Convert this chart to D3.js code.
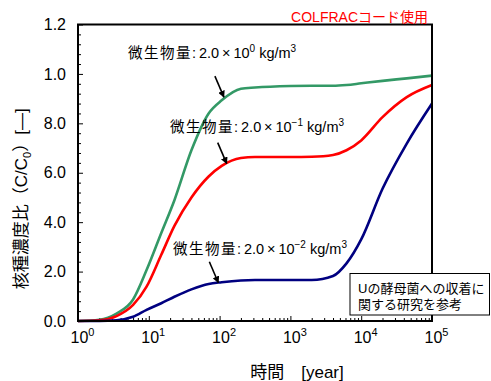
<!DOCTYPE html>
<html>
<head>
<meta charset="utf-8">
<script src="https://cdn.jsdelivr.net/npm/d3@7"></script>
<style>
  body { margin: 0; background: #fff; }
  svg { display: block; font-family: "Liberation Sans", "Noto Sans CJK JP", sans-serif; }
</style>
</head>
<body>
<div id="chart"></div>
<script>
// time [year]
const years = [1, 2, 3.5, 6, 9.3, 15, 23, 40, 70, 107, 200, 316, 1000, 2000, 4000, 6200, 10000, 20000, 44000, 100000];
// C/C0 for each biomass
const green = [0, 0.005, 0.03, 0.087, 0.206, 0.356, 0.489, 0.691, 0.84, 0.893, 0.94, 0.945, 0.951, 0.952, 0.952, 0.955, 0.962, 0.972, 0.982, 0.993];
const red   = [0, 0.003, 0.02, 0.065, 0.139, 0.268, 0.385, 0.5, 0.585, 0.628, 0.66, 0.664, 0.664, 0.665, 0.672, 0.691, 0.731, 0.825, 0.906, 0.955];
const blue  = [0, 0, 0.003, 0.017, 0.045, 0.072, 0.098, 0.128, 0.15, 0.157, 0.164, 0.166, 0.166, 0.166, 0.182, 0.233, 0.33, 0.535, 0.718, 0.88];

const yTickValues = [0, 0.2, 0.4, 0.6, 0.8, 1.0, 1.2];
const yTickLabels = ['0.0', '2.0', '4.0', '6.0', '8.0', '1.0', '1.2'];
const xExponents = [0, 1, 2, 3, 4, 5];

const seriesList = [
  { values: green, color: '#339966', exp: '0' },
  { values: red, color: '#ff0000', exp: '\u22121' },
  { values: blue, color: '#000080', exp: '\u22122' }
];

// label start (t, v) and arrow head (t, v) in data space
const annotations = [
  { label: [5.1, 1.084], head: [115, 0.906] },
  { label: [20, 0.785], head: [126, 0.637] },
  { label: [22, 0.29], head: [96, 0.155] }
];

const W = 491, H = 381;
const margin = { top: 24.5, right: 59, bottom: 60, left: 78 };

const svg = d3.select('#chart').append('svg')
  .attr('width', W)
  .attr('height', H);

const x = d3.scaleLog()
  .domain([1, 1e5])
  .range([margin.left, W - margin.right]);

const y = d3.scaleLinear()
  .domain([0, 1.2])
  .range([H - margin.bottom, margin.top]);

// minor ticks
const minorX = [];
for (let e = 0; e < 5; e++) {
  for (let k = 2; k <= 9; k++) minorX.push(k * Math.pow(10, e));
}
const minorY = d3.range(0, 1.2001, 0.04).filter(v => Math.abs(v * 5 - Math.round(v * 5)) > 1e-6);

svg.append('g')
  .attr('transform', `translate(0,${H - margin.bottom})`)
  .call(d3.axisBottom(x).tickValues(minorX).tickSize(-3).tickFormat(''))
  .call(g => g.select('.domain').remove());

const xAxis = svg.append('g')
  .attr('transform', `translate(0,${H - margin.bottom})`)
  .call(d3.axisBottom(x).tickValues(xExponents.map(e => Math.pow(10, e))).tickSize(-5).tickFormat(''))
  .call(g => g.select('.domain').remove());

xAxis.selectAll('.tick').each(function(d, i) {
  const t = d3.select(this).append('text')
    .attr('fill', '#000')
    .attr('y', 22)
    .attr('font-size', '16px')
    .attr('text-anchor', 'start')
    .attr('x', -8);
  t.append('tspan').text('10');
  t.append('tspan').attr('dy', -7).attr('font-size', '11px').text(xExponents[i]);
});

svg.append('g')
  .attr('transform', `translate(${margin.left},0)`)
  .call(d3.axisLeft(y).tickValues(minorY).tickSize(-3).tickFormat(''))
  .call(g => g.select('.domain').remove());

svg.append('g')
  .attr('transform', `translate(${margin.left},0)`)
  .call(d3.axisLeft(y).tickValues(yTickValues).tickSize(-5).tickPadding(12)
    .tickFormat((d, i) => yTickLabels[i]))
  .call(g => g.select('.domain').remove())
  .call(g => g.selectAll('text').attr('font-size', '16px').attr('fill', '#000'));

// curves
const line = d3.line()
  .x(d => x(d[0]))
  .y(d => y(d[1]))
  .curve(d3.curveMonotoneX);

seriesList.forEach(s => {
  svg.append('path')
    .datum(years.map((t, i) => [t, s.values[i]]))
    .attr('fill', 'none')
    .attr('stroke', s.color)
    .attr('stroke-width', 2.6)
    .attr('d', line);
});

// plot frame
svg.append('rect')
  .attr('x', x(1))
  .attr('y', y(1.2))
  .attr('width', x(1e5) - x(1))
  .attr('height', y(0) - y(1.2))
  .attr('fill', 'none')
  .attr('stroke', '#000')
  .attr('stroke-width', 2);

// arrows + labels
svg.append('defs').append('marker')
  .attr('id', 'ah')
  .attr('viewBox', '0 -5 10 10')
  .attr('refX', 9)
  .attr('refY', 0)
  .attr('markerWidth', 7)
  .attr('markerHeight', 7)
  .attr('markerUnits', 'userSpaceOnUse')
  .attr('orient', 'auto')
  .append('path')
  .attr('d', 'M0,-5L10,0L0,5Z')
  .attr('fill', '#000');

annotations.forEach((a, i) => {
  const hx = x(a.head[0]), hy = y(a.head[1]);
  svg.append('line')
    .attr('x1', hx - 9).attr('y1', hy - 21)
    .attr('x2', hx).attr('y2', hy)
    .attr('stroke', '#000')
    .attr('stroke-width', 1.6)
    .attr('marker-end', 'url(#ah)');

  const t = svg.append('text')
    .attr('x', x(a.label[0]))
    .attr('y', y(a.label[1]) + 5)
    .attr('font-size', '14.5px')
    .attr('fill', '#000');
  t.append('tspan').attr('letter-spacing', '1.5px').text('微生物量');
  t.append('tspan').text(':\u20092.0\u2009\u00d7\u200910');
  t.append('tspan').attr('dy', -6).attr('font-size', '10px').text(seriesList[i].exp);
  t.append('tspan').attr('dy', 6).text('\u00a0kg/m');
  t.append('tspan').attr('dy', -6).attr('font-size', '10px').text('3');
});

// title note
svg.append('text')
  .attr('x', x(1e5) - 4)
  .attr('y', 22)
  .attr('text-anchor', 'end')
  .attr('font-size', '14px')
  .attr('fill', '#ff0000')
  .text('COLFRACコード使用');

// reference box
const box = svg.append('g').attr('transform', 'translate(350,273.5)');
box.append('rect')
  .attr('width', 139.5)
  .attr('height', 41.5)
  .attr('fill', '#fff')
  .attr('stroke', '#000')
  .attr('stroke-width', 1);
box.append('text').attr('x', 8).attr('y', 19).attr('font-size', '13px').text('Uの酵母菌への収着に');
box.append('text').attr('x', 8).attr('y', 35).attr('font-size', '13px').text('関する研究を参考');

// axis titles
svg.append('text')
  .attr('transform', `translate(27,${(y(0) + y(1.2)) / 2 + 26}) rotate(-90)`)
  .attr('text-anchor', 'middle')
  .attr('font-size', '17px')
  .attr('fill', '#000')
  .text('核種濃度比（C/C')
  .call(t => {
    t.append('tspan').attr('dy', 4).attr('font-size', '11px').text('0');
    t.append('tspan').attr('dy', -4).text('）[—]');
  });

svg.append('text')
  .attr('x', 297)
  .attr('y', 378)
  .attr('text-anchor', 'middle')
  .attr('font-size', '17px')
  .attr('fill', '#000')
  .text('時間　[year]');
</script>
</body>
</html>
